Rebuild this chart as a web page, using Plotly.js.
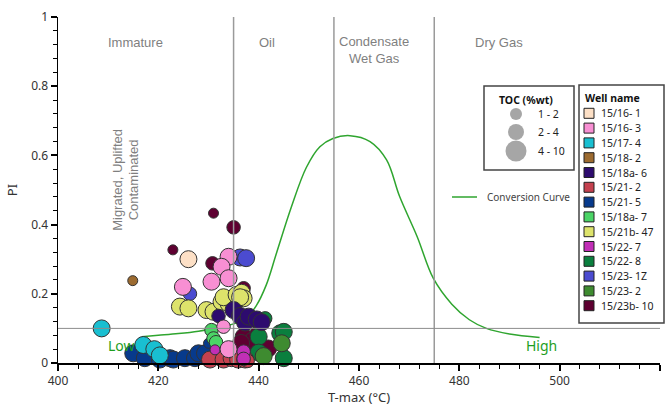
<!DOCTYPE html>
<html><head><meta charset="utf-8">
<script src="https://cdn.plot.ly/plotly-3.0.1.min.js"></script>
<style>html,body{margin:0;padding:0;background:#fff}#chart{width:669px;height:406px}</style>
</head><body><div id="chart"></div>
<script>
// ---------- DATA ----------
const wellNames = ['15/16- 1','15/16- 3','15/17- 4','15/18- 2','15/18a- 6','15/21- 2','15/21- 5','15/18a- 7','15/21b- 47','15/22- 7','15/22- 8','15/23- 1Z','15/23- 2','15/23b- 10'];
const wellColors = ['#FDE0C6','#F88FD3','#19BFD1','#9C6B30','#2D0B6E','#C4414F','#073A8C','#4BD466','#DDE36B','#C12FB6','#0A7F3E','#4B4BD0','#3E8B30','#5E0031'];
const tocLabels = ['1 - 2','2 - 4','4 - 10'];

// per well: T-max (°C), PI, TOC class index (0: 1-2, 1: 2-4, 2: 4-10)
const w0_tmax = [426.0];                 const w0_pi = [0.300];            const w0_toc = [2];
const w1_tmax = [434.0,432.6,434.0,430.6,424.9,433.0,434.0];
const w1_pi   = [0.307,0.278,0.245,0.235,0.220,0.105,0.040];
const w1_toc  = [2,2,2,2,2,1,2];
const w2_tmax = [408.7,417.0,419.2,420.3];
const w2_pi   = [0.100,0.052,0.040,0.022];
const w2_toc  = [2,2,2,2];
const w3_tmax = [414.9];                 const w3_pi = [0.238];            const w3_toc = [0];
const w4_tmax = [432.0,435.0,436.3,437.3,438.0,439.6,440.6];
const w4_pi   = [0.136,0.153,0.136,0.117,0.134,0.126,0.118];
const w4_toc  = [1,2,2,2,2,2,2];
const w5_tmax = [430.3,433.0,434.6,435.9,437.3,437.8];
const w5_pi   = [0.010,0.010,0.014,0.010,0.010,0.006];
const w5_toc  = [2,2,2,2,2,1];
const w6_tmax = [415.0,417.3,420.3,422.3,423.0,425.3,427.3,428.0,429.3,430.0];
const w6_pi   = [0.028,0.014,0.010,0.014,0.010,0.014,0.014,0.028,0.028,0.057];
const w6_toc  = [2,2,2,2,2,2,2,2,2,0];
const w7_tmax = [430.6,431.0,431.5];
const w7_pi   = [0.095,0.071,0.060];
const w7_toc  = [1,1,1];
const w8_tmax = [424.3,426.0,429.6,431.0,432.6,434.0,433.0,435.6,436.6,437.0,436.3];
const w8_pi   = [0.163,0.158,0.153,0.148,0.177,0.172,0.190,0.197,0.203,0.187,0.190];
const w8_toc  = [2,2,2,2,2,2,2,2,2,2,2];
const w9_tmax = [431.3,437.0,437.0];
const w9_pi   = [0.038,0.033,0.012];
const w9_toc  = [0,1,1];
const w10_tmax = [441.3,440.0,444.3,445.0,445.0,440.0];
const w10_pi   = [0.129,0.076,0.086,0.090,0.014,0.030];
const w10_toc  = [1,2,2,2,2,2];
const w11_tmax = [436.3,437.5,426.3];
const w11_pi   = [0.305,0.303,0.200];
const w11_toc  = [2,2,1];
const w12_tmax = [444.6,441.0];
const w12_pi   = [0.057,0.020];
const w12_toc  = [2,2];
const w13_tmax = [431.0,435.0,422.9,430.8,437.0,437.0,437.3,438.9,439.6,441.9,436.5];
const w13_pi   = [0.433,0.392,0.327,0.288,0.216,0.076,0.042,0.066,0.086,0.042,0.058];
const w13_toc  = [0,1,0,1,1,2,2,2,1,2,2];

// conversion curve
const curveTmax = [416.7,420,424,428,431,435,437.5,439.5,441.5,443.5,446.5,449.5,452.2,454.8,458.2,462.2,465.5,468.1,471.6,474.8,478.5,482,485.4,490,496];
const curvePI   = [0.076,0.080,0.085,0.092,0.100,0.113,0.130,0.165,0.225,0.315,0.450,0.565,0.625,0.649,0.657,0.640,0.587,0.481,0.365,0.245,0.170,0.125,0.100,0.084,0.074];

// maturity boundaries
const zoneBounds = [435,455,475];
const piLine = 0.1;

// ---------- BUILD ----------
const wellT = [w0_tmax,w1_tmax,w2_tmax,w3_tmax,w4_tmax,w5_tmax,w6_tmax,w7_tmax,w8_tmax,w9_tmax,w10_tmax,w11_tmax,w12_tmax,w13_tmax];
const wellP = [w0_pi,w1_pi,w2_pi,w3_pi,w4_pi,w5_pi,w6_pi,w7_pi,w8_pi,w9_pi,w10_pi,w11_pi,w12_pi,w13_pi];
const wellC = [w0_toc,w1_toc,w2_toc,w3_toc,w4_toc,w5_toc,w6_toc,w7_toc,w8_toc,w9_toc,w10_toc,w11_toc,w12_toc,w13_toc];
const tocSize = [10,13.5,17];
const drawOrder = [6,2,11,13,10,12,8,4,7,5,9,1,0,3];

const traces = [];
traces.push({x:curveTmax, y:curvePI, type:'scatter', mode:'lines', name:'Conversion Curve',
  line:{color:'#2FA52F', width:1.5, shape:'spline', smoothing:1}, showlegend:false, hoverinfo:'skip'});
drawOrder.forEach(i => {
  traces.push({x:wellT[i], y:wellP[i], type:'scatter', mode:'markers', name:wellNames[i],
    cliponaxis:false, showlegend:false,
    marker:{color:wellColors[i], size:wellC[i].map(c=>tocSize[c]), line:{color:'#333', width:1}, opacity:1}});
});

const ml=58, mt=17, pw=602, ph=346;
const px = v => (v-ml)/pw;
const py = v => (mt+ph-v)/ph;

const shapes = [];
zoneBounds.forEach(b => shapes.push({type:'line', xref:'x', yref:'y', x0:b, x1:b, y0:0, y1:1, layer:'above', line:{color:'#9a9a9a', width:1.5}}));
shapes.push({type:'line', xref:'paper', yref:'y', x0:0, x1:1, y0:piLine, y1:piLine, layer:'above', line:{color:'#8c8c8c', width:1}});

const annotations = [];
const gray = {family:'Liberation Sans, Arial', size:13, color:'#7f7f7f'};
annotations.push({x:415.5, y:0.925, xref:'x', yref:'y', text:'Immature', showarrow:false, font:gray});
annotations.push({x:441.7, y:0.925, xref:'x', yref:'y', text:'Oil', showarrow:false, font:gray});
annotations.push({x:463, y:0.905, xref:'x', yref:'y', text:'Condensate<br>Wet Gas', showarrow:false, font:gray});
annotations.push({x:488, y:0.925, xref:'x', yref:'y', text:'Dry Gas', showarrow:false, font:gray});
annotations.push({x:413.4, y:0.53, xref:'x', yref:'y', text:'Migrated, Uplifted<br>Contaminated', textangle:-90, showarrow:false, font:gray});
const greenF = {family:'Noto Sans', size:14, color:'#1E9E1E'};
annotations.push({x:412.7, y:0.05, xref:'x', yref:'y', text:'Low', showarrow:false, font:greenF});
annotations.push({x:496.4, y:0.05, xref:'x', yref:'y', text:'High', showarrow:false, font:greenF});

// conversion curve key
shapes.push({type:'line', xref:'paper', yref:'paper', x0:px(452), x1:px(477), y0:py(197), y1:py(197), line:{color:'#2FA52F', width:1.5}});
annotations.push({xref:'paper', yref:'paper', x:px(485), y:py(197), xanchor:'left', yanchor:'middle', text:'Conversion Curve', showarrow:false, font:{family:'Noto Sans', size:10, color:'#444'}});

// TOC key
shapes.push({type:'rect', xref:'paper', yref:'paper', x0:px(484), x1:px(574), y0:py(170), y1:py(86), line:{color:'#444', width:1.5}, fillcolor:'#fff'});
annotations.push({xref:'paper', yref:'paper', x:px(497), y:py(100), xanchor:'left', yanchor:'middle', text:'<b>TOC (%wt)</b>', showarrow:false, font:{family:'Noto Sans', size:10.5, color:'#111'}});
const tocKeyY = [114,132,151];
const tocKeyD = [12,16,21];
tocLabels.forEach((lab,k) => {
  const r = tocKeyD[k]/2;
  shapes.push({type:'circle', xref:'paper', yref:'paper', x0:px(516-r), x1:px(516+r), y0:py(tocKeyY[k]+r), y1:py(tocKeyY[k]-r), fillcolor:'#A6A6A6', line:{width:0}});
  annotations.push({xref:'paper', yref:'paper', x:px(536), y:py(tocKeyY[k]), xanchor:'left', yanchor:'middle', text:lab, showarrow:false, font:{family:'Noto Sans', size:10.5, color:'#222'}});
});

// Well name key
shapes.push({type:'rect', xref:'paper', yref:'paper', x0:px(579), x1:px(664), y0:py(323), y1:py(85), line:{color:'#444', width:1.5}, fillcolor:'#fff'});
annotations.push({xref:'paper', yref:'paper', x:px(583), y:py(98), xanchor:'left', yanchor:'middle', text:'<b>Well name</b>', showarrow:false, font:{family:'Noto Sans', size:10.5, color:'#111'}});
wellNames.forEach((nm,i) => {
  const yc = 113.3 + i*14.8;
  shapes.push({type:'rect', xref:'paper', yref:'paper', x0:px(584), x1:px(594), y0:py(yc+5), y1:py(yc-5), fillcolor:wellColors[i], line:{color:'#222', width:1}});
  annotations.push({xref:'paper', yref:'paper', x:px(599), y:py(yc), xanchor:'left', yanchor:'middle', text:nm, showarrow:false, font:{family:'Noto Sans', size:10.5, color:'#222'}});
});

const tickFont = {family:'Noto Sans', size:12, color:'#333'};
const layout = {
  width:669, height:406,
  margin:{l:ml, r:669-ml-pw, t:mt, b:406-mt-ph},
  paper_bgcolor:'#fff', plot_bgcolor:'#fff',
  showlegend:false,
  xaxis:{range:[400,520], tick0:400, dtick:20, showgrid:false, zeroline:false,
    showline:true, linecolor:'#000', linewidth:1.5, ticks:'outside', ticklen:6, tickwidth:2, tickcolor:'#000',
    minor:{dtick:4, ticks:'outside', ticklen:4, tickwidth:1, tickcolor:'#000', showgrid:false},
    tickfont:tickFont, title:{text:'T-max (°C)', font:{family:'Noto Sans', size:13, color:'#333'}, standoff:8}},
  yaxis:{range:[0,1], tick0:0, dtick:0.2, showgrid:false, zeroline:false,
    showline:true, linecolor:'#000', linewidth:1.5, ticks:'outside', ticklen:6, tickwidth:2, tickcolor:'#000',
    minor:{dtick:0.04, ticks:'outside', ticklen:4, tickwidth:1, tickcolor:'#000', showgrid:false},
    tickfont:tickFont, title:{text:'PI', font:{family:'Noto Sans', size:13, color:'#333'}, standoff:10}},
  shapes:shapes, annotations:annotations
};
Plotly.newPlot('chart', traces, layout, {displayModeBar:false, staticPlot:true});
</script></body></html>
